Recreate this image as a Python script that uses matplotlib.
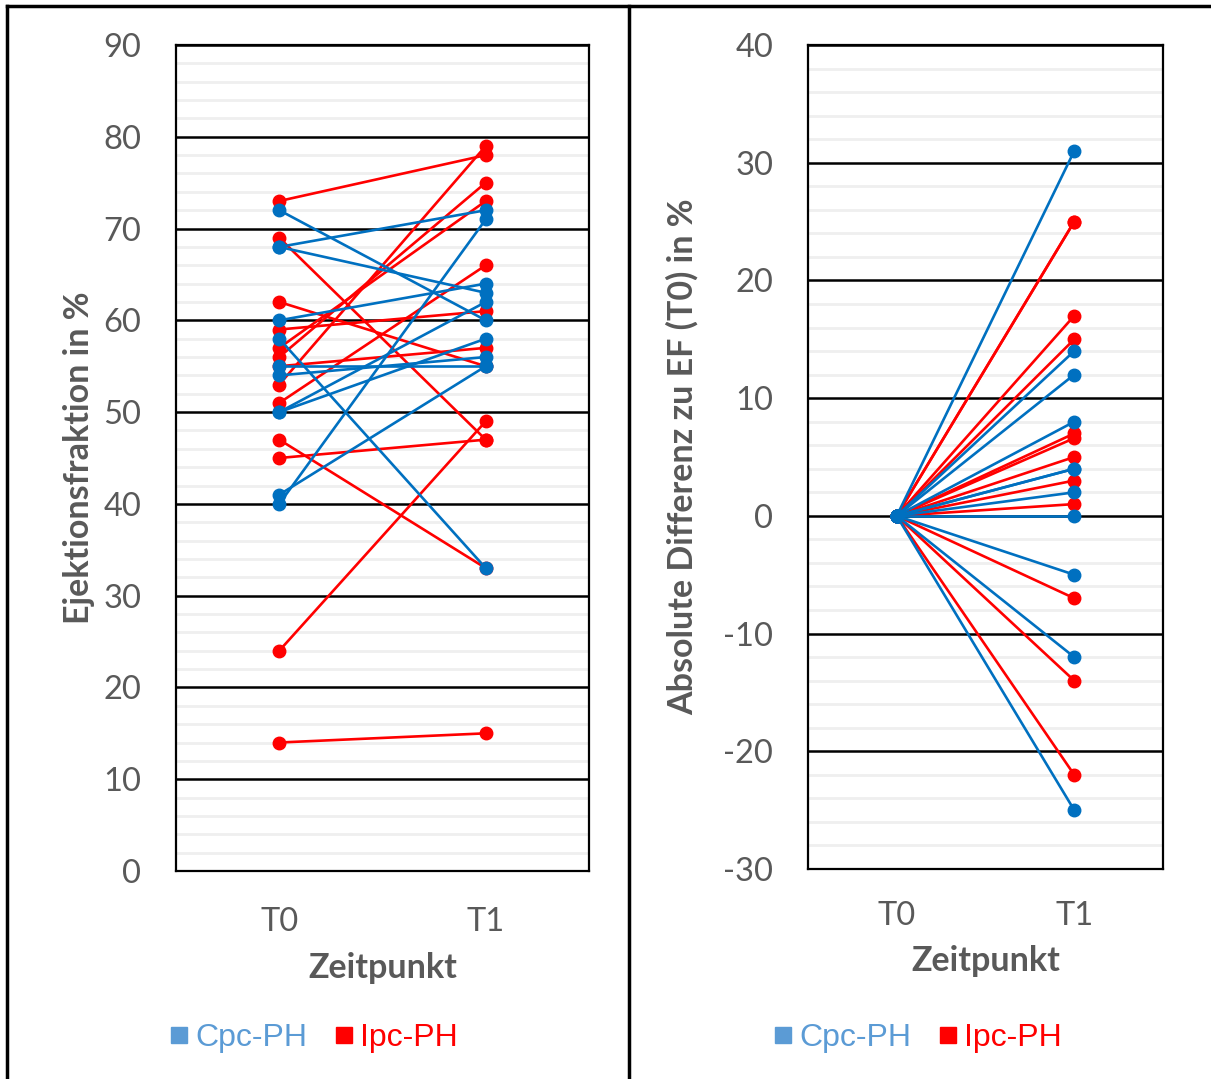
import matplotlib.pyplot as plt
from matplotlib.lines import Line2D
import numpy as np

# Werte je Patient: EF zu T0 und T1 (links), Differenz zu T0 (rechts)
zeitpunkte = ['T0', 'T1']
cpc_t0 = [72, 68, 68, 60, 58, 55, 54, 50, 50, 41, 40]
cpc_t1 = [60, 72, 63, 64, 33, 55, 56, 62, 58, 55, 71]
ipc_t0 = [73, 69, 62, 59, 57, 56, 55, 53, 51, 47, 45, 24, 14]
ipc_t1 = [78, 47, 55, 61, 73, 75, 57, 79, 66, 33, 47, 49, 15]
cpc_diff = [31, 14, 12, 8, 4, 4, 2, 0, -5, -12, -25]
ipc_diff = [25, 25, 17, 15, 7, 6.6, 5, 3, 1, -7, -14, -22]

BLAU = '#0070C0'
ROT = '#FF0000'
BLAU_HELL = '#5B9BD5'
GRAU = '#595959'

plt.rcParams['font.family'] = ['Lato', 'DejaVu Sans']
plt.rcParams['axes.unicode_minus'] = False

fig = plt.figure(figsize=(12.11, 10.79), dpi=100)
ax1 = fig.add_axes([176/1211, 1-871/1079, 413/1211, 826/1079])
ax2 = fig.add_axes([808/1211, 1-869/1079, 355/1211, 824/1079])


def achse(ax, ymin, ymax, ylabel, xpad, xlabel_pad, ylabel_pad):
    ax.set_xlim(-0.5, 1.5)
    ax.set_ylim(ymin, ymax)
    ax.set_xticks([0, 1])
    ax.set_xticklabels(zeitpunkte)
    ax.set_yticks(np.arange(ymin, ymax + 1, 10))
    ax.set_yticks(np.arange(ymin, ymax + 1, 2), minor=True)
    ax.grid(True, which='minor', axis='y', color='#EFEFEF', lw=2, zorder=0)
    ax.grid(True, which='major', axis='y', color='black', lw=1.8, zorder=1)
    ax.tick_params(axis='both', which='both', length=0, labelsize=23.5,
                   labelcolor=GRAU)
    ax.tick_params(axis='y', pad=25)
    ax.tick_params(axis='x', pad=xpad)
    for s in ax.spines.values():
        s.set_color('black')
        s.set_linewidth(1.6)
    ax.set_xlabel('Zeitpunkt', fontsize=24.5, fontweight='bold', color=GRAU,
                  labelpad=xlabel_pad)
    ax.set_ylabel(ylabel, fontsize=24.5, fontweight='bold', color=GRAU,
                  labelpad=ylabel_pad)


stil = dict(lw=1.9, marker='o', markersize=9, zorder=3)

# Links: EF zu beiden Zeitpunkten
for a, b in zip(ipc_t0, ipc_t1):
    ax1.plot([0, 1], [a, b], color=ROT, **stil)
for a, b in zip(cpc_t0, cpc_t1):
    ax1.plot([0, 1], [a, b], color=BLAU, **stil)
achse(ax1, 0, 90, 'Ejektionsfraktion in %', 26, 11, 6)

# Rechts: absolute Differenz zu T0
for d in ipc_diff:
    ax2.plot([0, 1], [0, d], color=ROT, **stil)
for d in cpc_diff:
    ax2.plot([0, 1], [0, d], color=BLAU, **stil)
achse(ax2, -30, 40, 'Absolute Differenz zu EF (T0) in %', 23, 10, 18)

# Legenden unter den Diagrammen
griffe = [Line2D([], [], ls='none', marker='s', markersize=11, color=BLAU_HELL),
          Line2D([], [], ls='none', marker='s', markersize=11, color=ROT)]
for x in (312/1211, 916/1211):
    fig.legend(griffe, ['Cpc-PH', 'Ipc-PH'], loc='center',
               bbox_to_anchor=(x, 1-1038/1079), ncol=2, frameon=False,
               prop={'family': 'Liberation Sans', 'size': 23},
               labelcolor=[BLAU_HELL, ROT], handletextpad=0.1,
               columnspacing=0.75, handlelength=0.8)

# Tabellenrahmen
fig.add_artist(Line2D([7/1211, 1], [1-6/1079, 1-6/1079], color='black', lw=2.5))
fig.add_artist(Line2D([7/1211, 7/1211], [0, 1-6/1079], color='black', lw=2.5))
fig.add_artist(Line2D([629/1211, 629/1211], [0, 1-6/1079], color='black', lw=2.5))

fig.savefig('out.png', dpi=100)
